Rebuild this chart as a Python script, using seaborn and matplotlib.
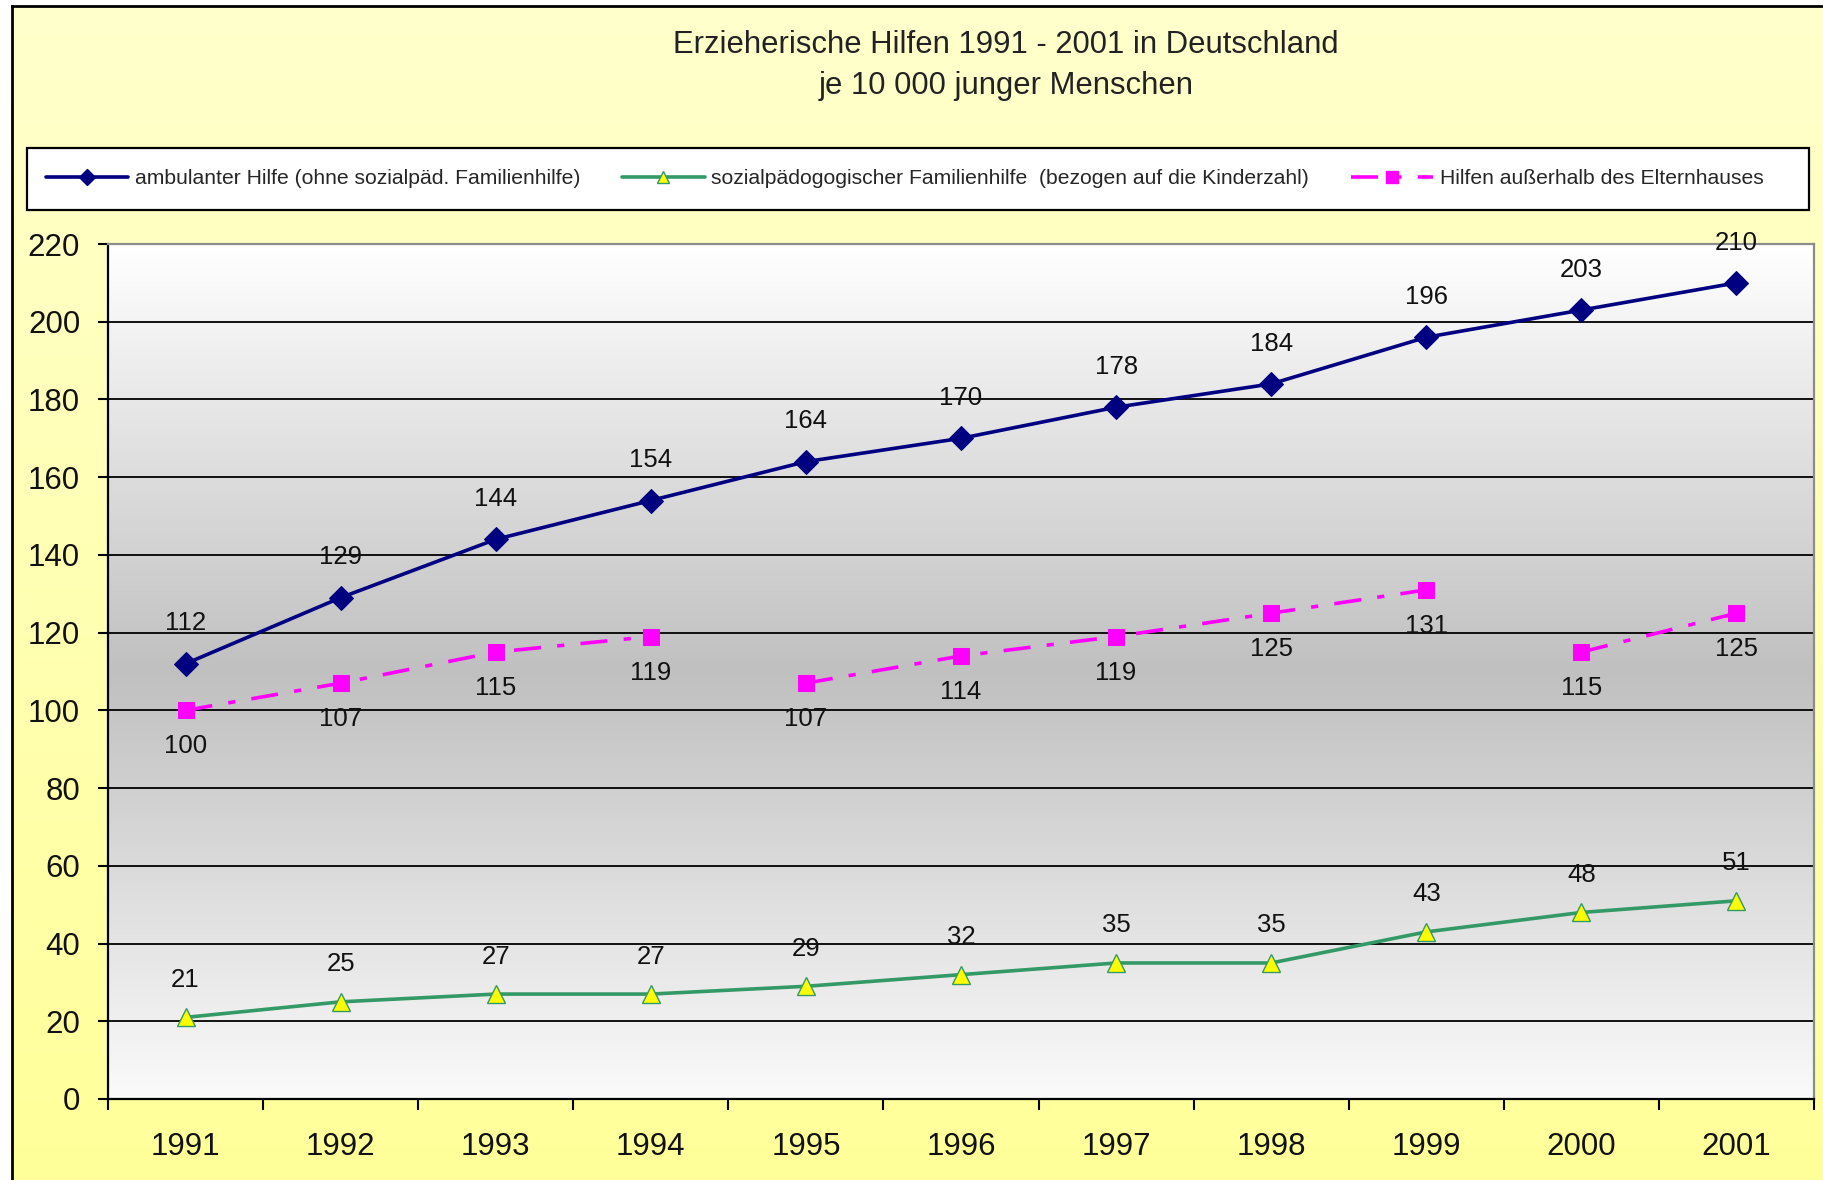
import matplotlib
matplotlib.use("Agg")
import matplotlib.pyplot as plt
import numpy as np
import pandas as pd
import seaborn as sns
from matplotlib.lines import Line2D
from matplotlib.patches import Rectangle
from matplotlib.colors import LinearSegmentedColormap

# data
years = [1991, 1992, 1993, 1994, 1995, 1996, 1997, 1998, 1999, 2000, 2001]
ambulant = [112, 129, 144, 154, 164, 170, 178, 184, 196, 203, 210]
familienhilfe = [21, 25, 27, 27, 29, 32, 35, 35, 43, 48, 51]
ausserhalb = [100, 107, 115, 119, 107, 114, 119, 125, 131, 115, 125]
ausserhalb_segment = [0, 0, 0, 0, 1, 1, 1, 1, 1, 2, 2]  # line is broken 94/95 and 99/00

series_names = [
    "ambulanter Hilfe (ohne sozialpäd. Familienhilfe)",
    "sozialpädogogischer Familienhilfe  (bezogen auf die Kinderzahl)",
    "Hilfen außerhalb des Elternhauses",
]
title_lines = ["Erzieherische Hilfen 1991 - 2001 in Deutschland", "je 10 000 junger Menschen"]
y_ticks = [0, 20, 40, 60, 80, 100, 120, 140, 160, 180, 200, 220]

col_amb = '#000080'
col_fam = '#339966'
col_aus = '#FF00FF'
dash_aus = (0, (7.5, 4.5, 2, 4.5))

sns.set_theme(style="ticks")
plt.rcParams['font.family'] = ['Liberation Sans', 'DejaVu Sans']

W, H = 1823, 1180
fig = plt.figure(figsize=(W / 100, H / 100), dpi=100, facecolor='white')


def fx(px):
    return px / W


def fy(py):
    return 1 - py / H


# yellow chart background with black frame
bg = fig.add_axes([fx(12), -0.01, 1.01 - fx(12), fy(6) + 0.01], zorder=0)
yel = LinearSegmentedColormap.from_list('yel', ['#FFFF99', '#FFFFCC'])
bg.imshow(np.linspace(0, 1, 256).reshape(-1, 1), aspect='auto', cmap=yel,
          origin='lower', extent=[0, 1, 0, 1])
bg.set_xticks([])
bg.set_yticks([])
for side in ['right', 'bottom']:
    bg.spines[side].set_visible(False)
for side in ['left', 'top']:
    bg.spines[side].set_color('black')
    bg.spines[side].set_linewidth(2)

# plot area
ax = fig.add_axes([fx(108), fy(1099), fx(1814) - fx(108), (1099 - 244) / H], zorder=2)
x_lo, x_hi = years[0] - 0.5, years[-1] + 0.5
ax.set_xlim(x_lo, x_hi)
ax.set_ylim(y_ticks[0], y_ticks[-1])
gray = LinearSegmentedColormap.from_list('gr', ['#FAFAFA', '#C0C0C0', '#FFFFFF'])
ax.imshow(np.linspace(0, 1, 256).reshape(-1, 1), aspect='auto', cmap=gray, origin='lower',
          extent=[x_lo, x_hi, y_ticks[0], y_ticks[-1]], zorder=0)

df_amb = pd.DataFrame({'Jahr': years, 'Wert': ambulant})
df_fam = pd.DataFrame({'Jahr': years, 'Wert': familienhilfe})
df_aus = pd.DataFrame({'Jahr': years, 'Wert': ausserhalb, 'Segment': ausserhalb_segment})

sns.lineplot(data=df_amb, x='Jahr', y='Wert', estimator=None, ax=ax, color=col_amb, lw=2.6,
             marker='D', markersize=12, markeredgecolor=col_amb, zorder=5)
sns.lineplot(data=df_fam, x='Jahr', y='Wert', estimator=None, ax=ax, color=col_fam, lw=2.6,
             marker='^', markersize=12.5, markerfacecolor='#FFFF00', markeredgecolor=col_fam,
             markeredgewidth=1, zorder=5)
sns.lineplot(data=df_aus, x='Jahr', y='Wert', units='Segment', estimator=None, ax=ax,
             color=col_aus, lw=2.6, linestyle=dash_aus, marker='s', markersize=11,
             markeredgecolor=col_aus, zorder=4)

# data labels
lab_kw = dict(textcoords='offset points', ha='center', va='center', fontsize=18.5,
              color='#111111', annotation_clip=False, zorder=6)
for x, v in zip(years, ambulant):
    ax.annotate(str(v), (x, v), xytext=(0, 29), **lab_kw)
for x, v in zip(years, familienhilfe):
    ax.annotate(str(v), (x, v), xytext=(0, 27), **lab_kw)
for x, v in zip(years, ausserhalb):
    ax.annotate(str(v), (x, v), xytext=(0, -26), **lab_kw)

# axes styling
ax.set_xlabel('')
ax.set_ylabel('')
ax.set_xticks([y - 0.5 for y in years] + [x_hi])
ax.set_xticklabels([])
ax.set_xticks(years, minor=True)
ax.set_xticklabels([str(y) for y in years], minor=True)
ax.tick_params(axis='x', which='major', length=8, width=1.5, color='black', direction='out')
ax.tick_params(axis='x', which='minor', length=0, pad=24, labelsize=22.5, labelcolor='#111111')
ax.set_yticks(y_ticks)
ax.tick_params(axis='y', length=7, width=1.5, color='black', direction='out', pad=13,
               labelsize=22.5, labelcolor='#111111')
ax.grid(axis='y', color='black', lw=1.3)
ax.set_axisbelow(True)
for side in ['left', 'bottom']:
    ax.spines[side].set_color('black')
    ax.spines[side].set_linewidth(1.6)
for side in ['top', 'right']:
    ax.spines[side].set_color('#8C8C8C')
    ax.spines[side].set_linewidth(1.6)

# legend box
fig.add_artist(Rectangle((fx(27), fy(210)), fx(1809) - fx(27), (210 - 148) / H,
                         transform=fig.transFigure, facecolor='white', edgecolor='black',
                         lw=1.6, zorder=1))
handles = [
    Line2D([], [], color=col_amb, lw=2.6, marker='D', markersize=8, markeredgecolor=col_amb),
    Line2D([], [], color=col_fam, lw=2.6, marker='^', markersize=9, markerfacecolor='#FFFF00',
           markeredgecolor=col_fam),
    Line2D([], [], color=col_aus, lw=2.6, linestyle=dash_aus, marker='s', markersize=8,
           markeredgecolor=col_aus),
]
fig.legend(handles, series_names, loc='center left', bbox_to_anchor=(fx(46), fy(179)), ncol=3,
           frameon=False, fontsize=15.2, handlelength=3.9, handletextpad=0.3, columnspacing=2.0,
           borderpad=0, borderaxespad=0, numpoints=1)

# title
fig.text(fx(1006), fy(45), title_lines[0], ha='center', va='center', fontsize=22.3, color='#222222')
fig.text(fx(1006), fy(86), title_lines[1], ha='center', va='center', fontsize=22.3, color='#222222')

fig.savefig('out.png', dpi=100)
